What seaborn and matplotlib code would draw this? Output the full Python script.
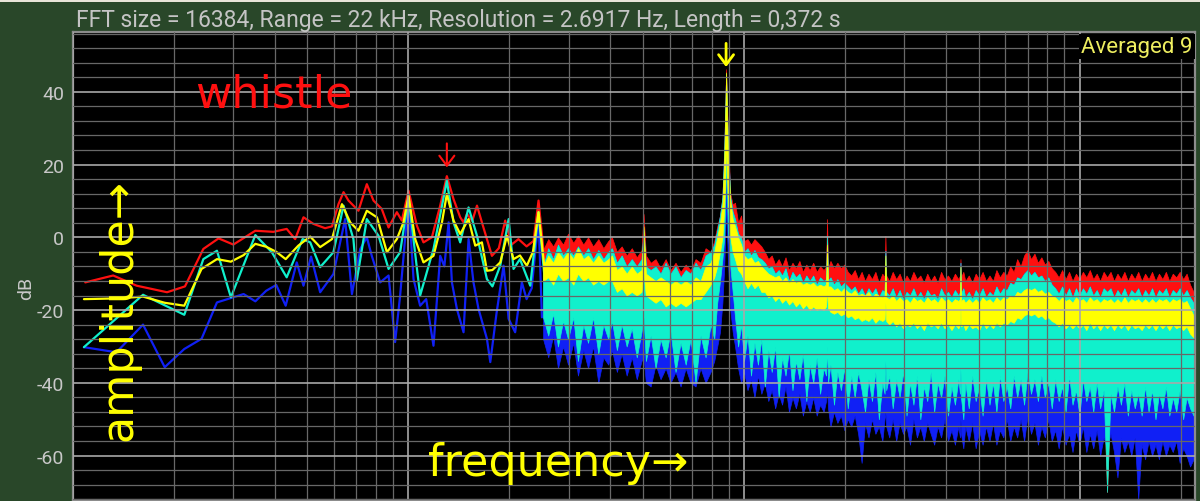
import matplotlib
matplotlib.use("Agg")
import matplotlib.pyplot as plt
import seaborn as sns
from matplotlib.ticker import FixedLocator, LogLocator, MultipleLocator, NullFormatter
from matplotlib.patches import Rectangle

# ---- data (frequency in Hz, level in dB) ----

# low end: single traces
red_low_hz = [10.9, 13.2, 15.5, 19.1, 21.6, 24.5, 27.2, 30.1, 35.0, 39.6, 43.4, 46.0, 48.7, 52.1, 56.5,
              59.2, 61.9, 64.1, 66.3, 71.0, 75.2, 78.7, 83.3, 87.3, 92.4, 95.6, 100.1, 106.0, 110.9,
              117.5, 124.4, 130.2, 136.3, 142.7, 146.0, 149.5, 155, 160.1, 165.6, 171.4, 177.4, 186,
              194.3, 203, 212.8, 225, 236, 244.2, 252.7]
red_low_db = [-12.4, -10.5, -13.3, -15.1, -13.5, -3.2, -0.3, -2.0, 1.8, 1.5, 2.3, -0.5, 5.5, 3.7, 2.5,
              3.0, 9.1, 12.4, 10.1, 7.3, 14.6, 10.1, 7.8, 2.7, 6.9, 4.6, 12.8, 3.2, -1.4,
              0.0, 8.7, 16.8, 10.5, 5.5, 4.1, 6.4, 4.5, 8.7, 4.1, -0.5, -5.1, -3.0,
              4.6, -2.0, -0.5, -2.5, -1.0, 10.1, -3.6]

yellow_low_hz = [10.8, 13.5, 16.2, 18.8, 21.5, 24.2, 26.9, 29.6, 32.3, 35.0, 37.7, 40.4, 43.1, 47.0,
                 51.0, 54.6, 59.2, 63.4, 67.1, 71.0, 75.2, 80.6, 86.3, 92.4, 96.7, 100.1, 104.8,
                 110.9, 118.8, 125.9, 130.2, 136.3, 142.7, 151.1, 158.2, 165.6, 171.4, 178, 187.8,
                 196.6, 205.7, 215, 225.4, 235, 244.2, 255.7]
yellow_low_db = [-17.0, -16.8, -16.3, -18.0, -18.8, -8.7, -6.0, -6.7, -4.9, -1.8, -2.6, -4.0, -6.0, -2.3,
                 0.2, -2.7, -0.5, 9.1, 4.1, 1.8, 7.3, 5.5, -4.1, -0.5, 4.1, 11.4, -0.5,
                 -6.9, -5.1, 4.1, 11.9, 4.6, 0.9, 5.0, -2.3, -1.4, -9.2, -9.0, -6.9,
                 0.4, -6.0, -5.0, -7.8, -4.0, 6.9, -10.5]

cyan_low_hz = [10.8, 16.2, 21.5, 24.5, 26.9, 29.6, 35.0, 39.2, 43.4, 48.4, 51.0, 54.6, 59.8, 64.1,
               68.6, 70.2, 75.2, 81.5, 87.3, 94.5, 100.1, 108.4, 118.8, 130.2, 136.3, 142.7, 151.1,
               160.1, 171.4, 178, 187.8, 198.9, 205.7, 215, 230.7, 244.2, 255]
cyan_low_db = [-30.2, -15.8, -21.3, -6.0, -3.7, -16.5, 0.6, -4.1, -11.0, -0.5, -1.4, -8.2, -4.1, 8.7,
               -0.5, -11.9, 5.0, 0.4, -8.7, -4.1, 11.0, -16.0, -3.2, 15.5, 4.1, -1.4, 8.2,
               0.4, -11.5, -13.5, -7.8, 5.0, -8.7, -6.0, -13.3, 6.9, -12.0]

blue_low_hz = [10.8, 13.5, 16.2, 18.8, 21.5, 24.2, 26.9, 32.3, 35.0, 37.7, 40.4, 43.1, 46.5, 48.7,
               51.3, 54.6, 59.8, 64.8, 67.9, 71.9, 75.2, 77.8, 82.4, 87.3, 91.3, 94.5, 100.1, 103.6,
               108.4, 113, 118.8, 124.4, 128, 131.8, 134.8, 139.5, 146.0, 151.1, 156.3, 161.8,
               171.4, 175.4, 183, 192.1, 198.9, 208.0, 217.8, 225, 233, 244.2, 250]
blue_low_db = [-30.2, -31.6, -24.0, -35.7, -30.7, -27.9, -17.9, -15.6, -17.6, -14.7, -13.1, -18.8, -6.9, -13.3,
               -5.3, -15.1, -10.1, 5.0, -15.6, -3.2, 0.0, -5.1, -12.4, -10.5, -28.8, -16.0, 10.5, -11.5,
               -18.8, -17.0, -29.8, -5.1, -8.0, 4.1, -12.4, -19.7, -26.1, -0.5, -12.4, -19.7,
               -27.9, -34.3, -21.0, -7.8, -22.4, -26.1, -12.4, -17.0, -14.0, 5.0, -22.0]

# upper end: dense noisy bands, read as upper / lower edges
band_hz = [252, 261, 270, 279, 289, 299, 310, 320, 332, 343,
           355, 368, 381, 394, 404, 418, 432, 447, 463, 479,
           495, 502, 510, 527, 545, 564, 584, 604, 625, 647,
           670, 693, 717, 742, 768, 795, 815, 832, 848, 862,
           873, 880, 884, 888, 895, 910, 925, 940, 960, 980,
           1000, 1024, 1049, 1074, 1100, 1126, 1153, 1181, 1209, 1238,
           1268, 1298, 1329, 1361, 1394, 1427, 1462, 1497, 1533, 1569,
           1607, 1646, 1685, 1726, 1755, 1767, 1779, 1809, 1853, 1897,
           1943, 1989, 2037, 2086, 2136, 2187, 2240, 2293, 2348, 2405,
           2462, 2521, 2582, 2622, 2637, 2652, 2707, 2772, 2839, 2907,
           2977, 3048, 3121, 3196, 3273, 3351, 3432, 3514, 3598, 3685,
           3773, 3864, 3956, 4051, 4149, 4248, 4350, 4398, 4413, 4428,
           4500, 4562, 4671, 4783, 4898, 5016, 5136, 5259, 5386, 5515,
           5647, 5783, 5921, 6063, 6209, 6358, 6511, 6667, 6827, 6991,
           7159, 7331, 7507, 7687, 7872, 8061, 8254, 8452, 8655, 8863,
           9076, 9294, 9517, 9745, 9979, 10218, 10464, 10715, 10972, 11235,
           11505, 11781, 12064, 12354, 12650, 12954, 13265, 13583, 13909, 14243,
           14585, 14935, 15293, 15660, 16036, 16421, 16815, 17219, 17632, 18055,
           18488, 18932, 19386, 19852, 20328, 20816, 21316, 21827, 22050]

red_top = [-3.5, -0.5, -2.5, 0, -2, 1, -1.5, 0.5, -2, 0,
           -2.5, -0.5, -3, -1, 0, -4, -2.5, -5, -3, -5.5,
           -3.5, 6.4, -5, -7, -6, -8.5, -6, -9, -7, -9.5,
           -7.5, -9, -6, -7, -3, -4, -1, 3, 6, 11,
           25, 38, 46.2, 40, 28, 12, 9, 9.5, 4, 6,
           -1, -0.5, -2, -0.5, -1.5, -2.5, -4, -6, -5, -7.5,
           -6, -8, -5.5, -9, -7, -8.5, -6.5, -9.5, -7.5, -9,
           -7, -9.5, -8, -9, -8, 5, -8.5, -6.5, -8.5, -7,
           -8.5, -7.5, -9.5, -10.5, -9, -11.5, -9.5, -12, -10, -11.5,
           -9.5, -12.5, -10, -11, 0.4, -10.5, -12, -9.5, -11.5, -10,
           -12.5, -10.5, -12, -9.5, -11.5, -10.5, -12.5, -10, -12, -10.5,
           -12.5, -9.5, -11.5, -10.5, -12, -10, -11.5, -10.5, -6, -11,
           -9.5, -12, -10.5, -12.5, -10, -11.5, -9.5, -12, -10.5, -12,
           -9, -11, -9.5, -10.5, -8, -9.5, -6, -8, -5, -3.5,
           -6, -4.5, -7, -5.5, -7.5, -6.5, -8.5, -9.5, -11, -9,
           -11.5, -9.5, -12, -10, -11.5, -9.5, -11, -9, -11.5, -10,
           -12, -9.5, -11, -9.5, -12, -10, -11.5, -9.5, -12, -10,
           -11.5, -9.5, -12, -10, -11.5, -9.5, -12, -10, -11.5, -9.5,
           -12, -10, -11, -9.5, -11.5, -10, -13, -15, -17]

yellow_top = [-8, -5, -7, -4, -6, -4, -6, -3, -6, -5,
              -7, -5, -7, -6, -5, -9, -8, -10, -8, -10,
              -9, 3, -10, -11, -12, -11, -12, -13, -12, -13,
              -12, -13, -11, -12, -8, -7, -4, 0, 4, 9,
              22, 36, 45.3, 38, 24, 10, 5, 3, 0, -2,
              -5, -6, -5.5, -7, -6.5, -8, -9, -10, -10.5, -11,
              -10.5, -12, -11, -12.5, -11.5, -12.5, -12, -13, -12.5, -13,
              -12.5, -13.5, -13, -13.5, -13, -2, -13.5, -13.5, -14.5, -14,
              -15, -14, -15, -15.5, -14.5, -16, -15.5, -16, -15, -16.5,
              -15.5, -16, -16.5, -16, -5, -16.5, -17, -16, -17.5, -16.5,
              -17.5, -17, -18, -16.5, -17.5, -17, -18, -16.5, -17.5, -17,
              -18, -16.5, -17.5, -17, -18, -17, -17.5, -17, -8, -17.5,
              -17, -18, -17, -18, -17, -18, -16.5, -17.5, -17, -18,
              -16.5, -17.5, -16.5, -17, -16, -16.5, -15, -15.5, -14.5, -14,
              -14.5, -14, -15, -14.5, -15.5, -15, -16, -16.5, -17.5, -16.5,
              -17.5, -17, -18, -16.5, -17.5, -17, -18, -16.5, -17.5, -17,
              -18, -17, -17.5, -17, -18, -17, -18, -16.5, -18, -17,
              -17.5, -17, -18, -17, -18, -17, -18, -17, -17.5, -17,
              -18, -17, -17.5, -17, -18, -17.5, -19.5, -21.5, -23]

yellow_bottom = [-12, -11, -13, -10, -12, -11, -13, -10, -12, -11,
                 -13, -12, -13, -12, -12, -15, -14, -16, -15, -16,
                 -15, -10, -16, -17, -18, -17, -19, -18, -19, -18,
                 -19, -18, -17, -17, -15, -13, -11, -8, -4, 0,
                 8, 18, 28, 20, 10, 0, -4, -6, -9, -10,
                 -12, -14, -12.5, -14, -13, -15, -15, -16.5, -16, -17.5,
                 -16.5, -18, -17, -18.5, -17.5, -19, -18, -19.5, -18.5, -20,
                 -19, -20, -19.5, -20, -19, -14, -19.5, -20.5, -21, -20.5,
                 -21.5, -21, -22, -21.5, -22.5, -22, -23, -22.5, -23, -22,
                 -23.5, -22.5, -23, -22.5, -18, -23, -24, -23, -24.5, -23.5,
                 -25, -24, -24.5, -23.5, -25, -24, -25.5, -23.5, -24.5, -24,
                 -25, -23.5, -25, -24, -25.5, -24, -25, -24, -19, -24.5,
                 -24, -25.5, -24, -25, -24.5, -25.5, -23.5, -25, -24, -25,
                 -23.5, -24.5, -23.5, -24, -23, -23.5, -22, -22.5, -21.5, -21,
                 -21.5, -21, -22, -21.5, -22.5, -22, -23, -23.5, -24.5, -23.5,
                 -25, -24, -25, -24, -25, -24, -25.5, -23.5, -25, -24,
                 -25.5, -24, -25, -24, -25.5, -24, -25, -24, -25.5, -24,
                 -25, -24.5, -25.5, -24, -25, -24, -25.5, -24, -25, -24,
                 -25.5, -24, -25, -24.5, -25.5, -24.5, -26.5, -27.5, -28]

cyan_top = [-8, -3, -6, -2, -5, -3, -5, -2.5, -5, -3,
            -6, -3.5, -6, -4, -3, -7, -5, -8, -6, -8,
            -6, 2, -8, -9, -8, -10, -7, -10, -8, -11,
            -9, -10, -7, -9, -5, -4, -2, 2, 6, 11,
            24, 37, 45, 38, 26, 11, 7, 5, 1, 0,
            -4, -3, -5, -3.5, -5.5, -6, -7, -8.5, -8, -10,
            -9, -10.5, -8.5, -12, -9.5, -11, -10, -12.5, -10.5, -12,
            -10.5, -13, -11, -12, -11.5, 0.4, -12, -11, -13, -11.5,
            -13.5, -12.5, -13.5, -14.5, -13.5, -15.5, -14, -16, -14, -15.5,
            -14, -16.5, -14.5, -15, -3.7, -15, -16, -14, -16.5, -14.5,
            -17, -15, -16, -14, -16.5, -15, -17, -14.5, -16, -15.5,
            -17, -14, -16, -15, -16.5, -14.5, -16, -15, -7, -15.5,
            -14, -16.5, -15, -17, -14.5, -16, -14, -16.5, -15, -16,
            -13.5, -15.5, -14, -14.5, -12.5, -13, -11, -11.5, -10, -9,
            -10.5, -9.5, -11, -10.5, -12, -11, -13, -14, -15.5, -13.5,
            -16, -14, -16.5, -14, -16, -14, -15.5, -13.5, -16, -14.5,
            -16.5, -14, -15, -14, -16.5, -14.5, -16, -14, -16.5, -14.5,
            -15.5, -14, -16.5, -14.5, -16, -14, -16.5, -14.5, -15.5, -14,
            -16.5, -14.5, -15.5, -14, -16, -14.5, -16.5, -18, -19]

cyan_bottom = [-22, -27, -21, -30, -23, -28, -22, -34, -24, -29,
               -22, -32, -24, -28, -23, -31, -24, -30, -25, -33,
               -26, -22, -34, -27, -36, -28, -33, -26, -37, -29,
               -35, -28, -40, -27, -33, -24, -28, -18, -12, -6,
               0, 12, 22, 14, 2, -8, -15, -22, -30, -24,
               -34, -27, -38, -29, -35, -28, -41, -31, -37, -30,
               -44, -33, -38, -31, -42, -34, -39, -32, -45, -35,
               -40, -33, -43, -36, -38, -30, -40, -35, -46, -37,
               -42, -36, -47, -38, -44, -37, -42, -48, -39, -45,
               -37, -50, -40, -43, -34, -42, -38, -47, -39, -44,
               -37, -49, -40, -46, -38, -50, -41, -45, -37, -48,
               -40, -44, -38, -49, -41, -46, -39, -43, -36, -44,
               -50, -40, -47, -38, -45, -41, -49, -39, -46, -40,
               -48, -38, -45, -41, -47, -38, -44, -39, -46, -37,
               -43, -39, -45, -38, -44, -40, -47, -39, -45, -41,
               -48, -38, -46, -42, -49, -39, -45, -41, -48, -40,
               -47, -42, -70, -43, -48, -41, -46, -40, -49, -42,
               -47, -43, -49, -41, -48, -42, -50, -43, -47, -41,
               -49, -44, -48, -42, -50, -44, -47, -49, -48]

blue_bottom = [-28, -33, -27, -36, -30, -35, -29, -38, -31, -36,
               -30, -40, -33, -35, -31, -37, -32, -38, -33, -39,
               -34, -33, -40, -41, -35, -39, -36, -40, -37, -41,
               -36, -40, -41, -36, -40, -37, -34, -30, -26, -18,
               -8, 2, 10, 4, -6, -20, -26, -30, -36, -40,
               -37, -42, -39, -44, -38, -43, -40, -45, -42, -47,
               -43, -46, -41, -48, -44, -47, -43, -49, -45, -48,
               -44, -49, -46, -48, -45, -42, -47, -52, -48, -51,
               -49, -53, -50, -52, -49, -54, -62, -51, -55, -50,
               -54, -52, -56, -50, -48, -52, -55, -50, -56, -51,
               -54, -52, -57, -50, -55, -52, -56, -51, -54, -57,
               -52, -55, -50, -56, -53, -57, -52, -55, -50, -54,
               -58, -52, -56, -51, -58, -53, -57, -52, -56, -51,
               -57, -53, -55, -50, -56, -52, -55, -50, -56, -49,
               -54, -51, -57, -52, -55, -50, -56, -53, -58, -52,
               -57, -54, -59, -53, -57, -52, -59, -54, -58, -53,
               -60, -55, -58, -54, -59, -66, -55, -59, -56, -60,
               -55, -72, -57, -61, -56, -60, -57, -61, -56, -60,
               -57, -59, -56, -62, -58, -60, -63, -61, -61]

y_ticks = [-60, -40, -20, 0, 20, 40]
y_tick_labels = ["-60", "-40", "-20", "0", "20", "40"]
x_decades = [10, 100, 1000, 10000]

title = "FFT size = 16384, Range = 22 kHz, Resolution = 2.6917 Hz, Length = 0,372 s"

# marker arrows (frequency, arrow top dB, arrow tip dB)
whistle_arrow = (130.2, 25.8, 19.2)
peak_arrow = (884, 53.3, 46.8)

RED = "#ff1010"
YELLOW = "#ffff00"
CYAN = "#10f0cc"
BLUE = "#1020f5"
GREEN = "#294729"

sns.set_style("dark")
plt.rcParams["font.family"] = ["Roboto", "DejaVu Sans"]
plt.rcParams["axes.unicode_minus"] = False

fig = plt.figure(figsize=(12, 5.02), dpi=100, facecolor=GREEN)
ax = fig.add_axes([72.7 / 1200, 1 / 502, 1122.3 / 1200, 468.3 / 502])
ax.set_facecolor("black")
ax.set_xscale("log")

# drawing order: red at the back, then blue, cyan, yellow on top
layers = [
    (RED, red_low_hz, red_low_db, cyan_bottom, red_top, 1.0),
    (BLUE, blue_low_hz, blue_low_db, blue_bottom, cyan_top, 1.1),
    (CYAN, cyan_low_hz, cyan_low_db, cyan_bottom, cyan_top, 1.2),
    (YELLOW, yellow_low_hz, yellow_low_db, yellow_bottom, yellow_top, 1.3),
]
for color, lf, ldb, lo, hi, z in layers:
    ax.fill_between(band_hz, lo, hi, facecolor=color, edgecolor=color, linewidth=0.5, zorder=z)
    sns.lineplot(x=lf, y=ldb, color=color, linewidth=1.6, ax=ax, zorder=z, legend=False)

ax.set_xlim(10, 22050)
ax.set_ylim(-72.2, 56.5)
ax.set_xlabel("")
ax.set_ylabel("")

# grid: decades / 1-9 subdivisions, 20 dB / 4 dB
ax.xaxis.set_major_locator(FixedLocator(x_decades))
ax.xaxis.set_minor_locator(LogLocator(base=10, subs=range(2, 10), numticks=20))
ax.xaxis.set_major_formatter(NullFormatter())
ax.xaxis.set_minor_formatter(NullFormatter())
ax.yaxis.set_major_locator(FixedLocator(y_ticks))
ax.set_yticklabels(y_tick_labels)
ax.yaxis.set_minor_locator(MultipleLocator(4))
ax.set_axisbelow(False)
ax.grid(True, which="major", color="#a8a8a8", linewidth=1.2)
ax.grid(True, which="minor", color="#686868", linewidth=0.9)
ax.tick_params(which="both", length=0)
ax.tick_params(axis="y", pad=6, labelsize=14, labelcolor="#c8c8c8")
for s in ax.spines.values():
    s.set_color("#8c8c8c")
    s.set_linewidth(1.6)

# arrows marking the two tones
ax.annotate("", xy=(whistle_arrow[0], whistle_arrow[2]), xytext=(whistle_arrow[0], whistle_arrow[1]),
            arrowprops=dict(arrowstyle="->,head_length=0.4,head_width=0.3", color=RED, lw=1.5,
                            shrinkA=0, shrinkB=0, mutation_scale=18), zorder=5)
ax.annotate("", xy=(peak_arrow[0], peak_arrow[2]), xytext=(peak_arrow[0], peak_arrow[1]),
            arrowprops=dict(arrowstyle="->,head_length=0.4,head_width=0.3", color=YELLOW, lw=2,
                            shrinkA=0, shrinkB=0, mutation_scale=18), zorder=5)

# frame texts
fig.patches.append(Rectangle((0, 1 - 3 / 502), 1, 3 / 502, transform=fig.transFigure,
                             facecolor="#e8e4d8", edgecolor="none"))
fig.text(76 / 1200, 1 - 27 / 502, title, color="#c4c4c4", fontsize=16.5, va="baseline", ha="left")
fig.text(26 / 1200, 1 - 288 / 502, "dB", rotation=90, ha="center", va="center",
         color="#c8c8c8", fontsize=14)
fig.text(1081 / 1200, 1 - 53 / 502, "Averaged 9", color="#eeee60", fontsize=16, va="baseline",
         bbox=dict(facecolor="black", edgecolor="none", pad=1.5))

# hand-written labels
fig.text(195 / 1200, 1 - 107 / 502, "whistle", color=RED, fontsize=32,
         family="DejaVu Sans", va="baseline", ha="left")
fig.text(428 / 1200, 1 - 476 / 502, "frequency\u2192", color=YELLOW, fontsize=32,
         family="DejaVu Sans", va="baseline", ha="left")
fig.text(131 / 1200, 1 - 441 / 502, "amplitude\u2192", color=YELLOW, fontsize=32,
         family="DejaVu Sans", rotation=90, rotation_mode="anchor", va="baseline", ha="left")

fig.savefig("out.png", dpi=100, facecolor=GREEN)
